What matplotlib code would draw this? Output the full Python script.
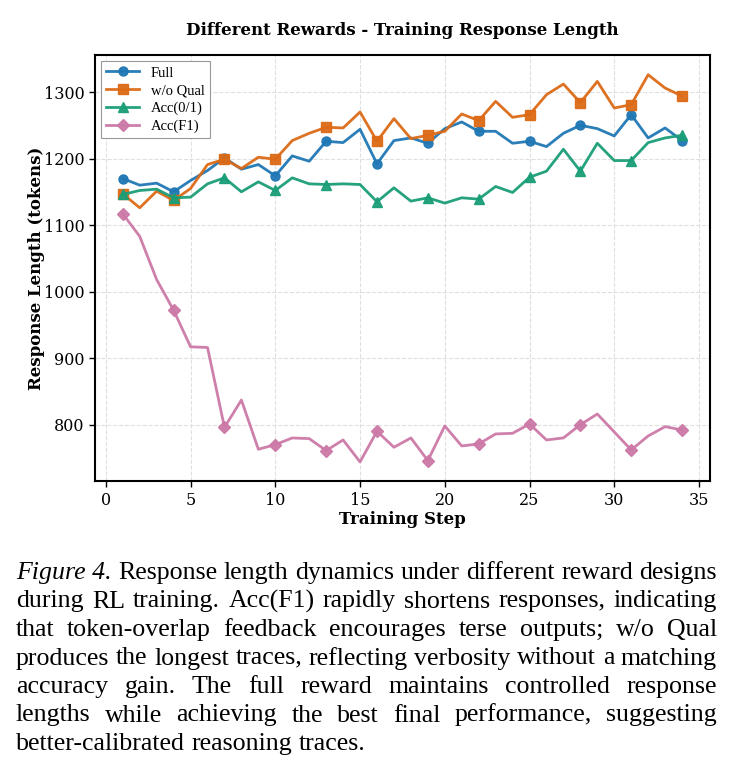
import matplotlib
matplotlib.use("Agg")
import matplotlib.pyplot as plt
import numpy as np

steps = list(range(1, 35))
full = [1170, 1160, 1163, 1150, 1167, 1182, 1201, 1184, 1191, 1174, 1204, 1196,
        1226, 1224, 1244, 1192, 1227, 1231, 1223, 1245, 1255, 1241, 1241, 1223,
        1226, 1218, 1238, 1250, 1245, 1234, 1266, 1231, 1246, 1227]
wo_qual = [1147, 1126, 1151, 1137, 1155, 1191, 1199, 1185, 1202, 1199, 1227, 1238,
           1247, 1246, 1270, 1226, 1260, 1230, 1235, 1241, 1267, 1257, 1286, 1262,
           1266, 1296, 1312, 1284, 1316, 1276, 1281, 1326, 1306, 1294]
acc01 = [1146, 1152, 1154, 1141, 1142, 1162, 1171, 1150, 1165, 1152, 1171, 1162,
         1161, 1162, 1161, 1135, 1156, 1136, 1141, 1133, 1141, 1139, 1158, 1149,
         1172, 1181, 1214, 1181, 1223, 1197, 1197, 1224, 1231, 1235]
acc_f1 = [1117, 1083, 1018, 972, 917, 916, 796, 837, 763, 770, 780, 779,
          761, 777, 744, 790, 766, 780, 746, 798, 768, 771, 786, 787,
          801, 777, 780, 800, 816, 789, 762, 783, 797, 792]

labels = ["Full", "w/o Qual", "Acc(0/1)", "Acc(F1)"]
series = [full, wo_qual, acc01, acc_f1]
colors = ["#1f77b4", "#dc6a16", "#1a9e77", "#cc79a7"]
markers = ["o", "s", "^", "D"]

title = "Different Rewards - Training Response Length"
xlabel = "Training Step"
ylabel = "Response Length (tokens)"

caption_lines = [
    "Response length dynamics under different reward designs",
    "during RL training. Acc(F1) rapidly shortens responses, indicating",
    "that token-overlap feedback encourages terse outputs; w/o Qual",
    "produces the longest traces, reflecting verbosity without a matching",
    "accuracy gain.  The full reward maintains controlled response",
    "lengths while achieving the best final performance, suggesting",
    "better-calibrated reasoning traces.",
]
caption_prefix = "Figure 4."

fig = plt.figure(figsize=(7.35, 7.8), dpi=100)
ax = fig.add_axes([0.129, 0.383, 0.837, 0.546])

for vals, lab, c, m in zip(series, labels, colors, markers):
    ms = 6.5 if m != "D" else 6
    ax.plot(steps, vals, color=c, lw=2, marker=m, markersize=ms, markevery=3,
            label=lab, alpha=0.95)

ax.set_xticks([0, 5, 10, 15, 20, 25, 30, 35])
ax.set_yticks([800, 900, 1000, 1100, 1200, 1300])
ax.grid(True, ls="--", color="#d8d8d8", lw=0.8, alpha=0.8)
ax.set_axisbelow(True)
for sp in ax.spines.values():
    sp.set_linewidth(1.5)
    sp.set_color("black")
ax.tick_params(labelsize=11.5, length=4, width=1)
for t in ax.get_xticklabels() + ax.get_yticklabels():
    t.set_family("DejaVu Serif")

ax.set_title(title, fontsize=12, fontweight="bold", family="DejaVu Serif", pad=15)
ax.set_xlabel(xlabel, fontsize=12, fontweight="bold", family="DejaVu Serif", labelpad=2)
ax.set_ylabel(ylabel, fontsize=12, fontweight="bold", family="DejaVu Serif", labelpad=-1)

leg = ax.legend(loc="upper left", prop={"family": "Liberation Serif", "size": 10.5},
                frameon=True, fancybox=False, edgecolor="#999999", framealpha=1,
                borderaxespad=0.4, handlelength=2.3, labelspacing=0.3,
                borderpad=0.35)
leg.get_frame().set_linewidth(0.8)

# caption, justified
renderer = fig.canvas.get_renderer()
x0_px, x1_px = 16, 717
cap_font = "Liberation Serif"
W = fig.bbox.width
H = fig.bbox.height

def text_width(s, fs, style="normal"):
    t = fig.text(0, 0, s, fontsize=fs, family=cap_font, style=style)
    w = t.get_window_extent(renderer).width
    t.remove()
    return w

# size the caption so the tightest line fills the column naturally
fs0 = 18.0
nat = text_width(caption_lines[3], fs0)
fs = fs0 * (x1_px - x0_px) / nat

y_px = 579
line_h = 28.5
space_w = text_width("a b", fs) - text_width("ab", fs)
for i, line in enumerate(caption_lines):
    words = line.split()
    items = []
    if i == 0:
        items.append((caption_prefix, "italic"))
    items += [(w, "normal") for w in words]
    widths = [text_width(w, fs, st) for w, st in items]
    total = sum(widths)
    gaps = len(items) - 1
    last = i == len(caption_lines) - 1
    if last:
        gap = space_w
    else:
        gap = (x1_px - x0_px - total) / gaps
    x = x0_px
    for (w, st), wd in zip(items, widths):
        fig.text(x / W, 1 - y_px / H, w, fontsize=fs, family=cap_font, style=st,
                 va="baseline", ha="left")
        x += wd + gap
    y_px += line_h

fig.savefig("out.png", dpi=100)
